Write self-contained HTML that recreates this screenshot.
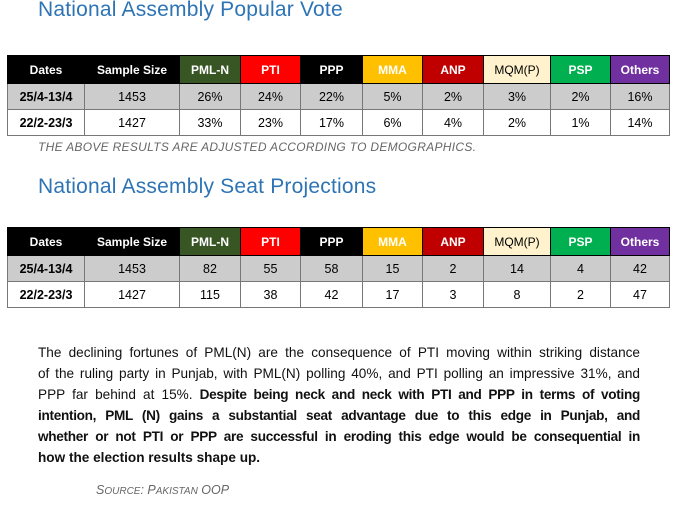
<!DOCTYPE html>
<html><head><meta charset="utf-8"><style>
body{margin:0;width:678px;height:517px;background:#fff;font-family:"Liberation Sans",sans-serif;position:relative;overflow:hidden}
.title{position:absolute;left:38px;color:#2e74b5;font-size:21px;letter-spacing:0.2px}
table{position:absolute;left:7px;border-collapse:collapse;table-layout:fixed;width:662px;font-size:12.5px}
td{border:1px solid #777;text-align:center;height:25px;padding:0}
tr.h td{color:#fff;font-weight:bold;background:#000;border-color:#000;height:27px;font-size:12px}
tr.g td{background:#cccccc}
td.d{font-weight:bold}
.note{position:absolute;left:38px;top:140px;color:#666;font-style:italic;font-size:12px;letter-spacing:0.3px}
.para{position:absolute;left:38px;top:342px;width:602px;font-size:13.6px;line-height:21px;color:#111}
.para div{text-align:justify;text-align-last:justify;white-space:nowrap;overflow:hidden}
.para div.last{text-align-last:left}
.src{position:absolute;left:96px;top:483px;color:#666;font-style:italic;font-size:12.5px}
</style></head><body>
<div class="title" style="top:-2px">National Assembly Popular Vote</div>
<table style="top:55px">
<colgroup><col style="width:77px"><col style="width:95px"><col style="width:61px"><col style="width:60px"><col style="width:62px"><col style="width:60px"><col style="width:61px"><col style="width:67px"><col style="width:60px"><col style="width:59px"></colgroup>
<tr class="h"><td>Dates</td><td>Sample Size</td><td style="background:#375623">PML-N</td><td style="background:#ff0000">PTI</td><td>PPP</td><td style="background:#ffc000">MMA</td><td style="background:#c00000">ANP</td><td style="background:#fff2cc;color:#000;font-weight:normal">MQM(P)</td><td style="background:#00b050">PSP</td><td style="background:#7030a0">Others</td></tr>
<tr class="g"><td class="d">25/4-13/4</td><td>1453</td><td>26%</td><td>24%</td><td>22%</td><td>5%</td><td>2%</td><td>3%</td><td>2%</td><td>16%</td></tr>
<tr><td class="d">22/2-23/3</td><td>1427</td><td>33%</td><td>23%</td><td>17%</td><td>6%</td><td>4%</td><td>2%</td><td>1%</td><td>14%</td></tr>
</table>
<div class="note">THE ABOVE RESULTS ARE ADJUSTED ACCORDING TO DEMOGRAPHICS.</div>
<div class="title" style="top:175px">National Assembly Seat Projections</div>
<table style="top:227px">
<colgroup><col style="width:77px"><col style="width:95px"><col style="width:61px"><col style="width:60px"><col style="width:62px"><col style="width:60px"><col style="width:61px"><col style="width:67px"><col style="width:60px"><col style="width:59px"></colgroup>
<tr class="h"><td>Dates</td><td>Sample Size</td><td style="background:#375623">PML-N</td><td style="background:#ff0000">PTI</td><td>PPP</td><td style="background:#ffc000">MMA</td><td style="background:#c00000">ANP</td><td style="background:#fff2cc;color:#000;font-weight:normal">MQM(P)</td><td style="background:#00b050">PSP</td><td style="background:#7030a0">Others</td></tr>
<tr class="g"><td class="d">25/4-13/4</td><td>1453</td><td>82</td><td>55</td><td>58</td><td>15</td><td>2</td><td>14</td><td>4</td><td>42</td></tr>
<tr><td class="d">22/2-23/3</td><td>1427</td><td>115</td><td>38</td><td>42</td><td>17</td><td>3</td><td>8</td><td>2</td><td>47</td></tr>
</table>
<div class="para">
<div>The declining fortunes of PML(N) are the consequence of PTI moving within striking distance</div>
<div>of the ruling party in Punjab, with PML(N) polling 40%, and PTI polling an impressive 31%, and</div>
<div>PPP far behind at 15%. <b style="letter-spacing:-0.3px">Despite being neck and neck with PTI and PPP in terms of voting</b></div>
<div style="letter-spacing:-0.3px"><b>intention, PML (N) gains a substantial seat advantage due to this edge in Punjab, and</b></div>
<div style="letter-spacing:-0.3px"><b>whether or not PTI or PPP are successful in eroding this edge would be consequential in</b></div>
<div class="last"><b>how the election results shape up.</b></div>
</div>
<div class="src">S<span style="font-size:10px">OURCE</span>: P<span style="font-size:10px">AKISTAN</span> OOP</div>
</body></html>
